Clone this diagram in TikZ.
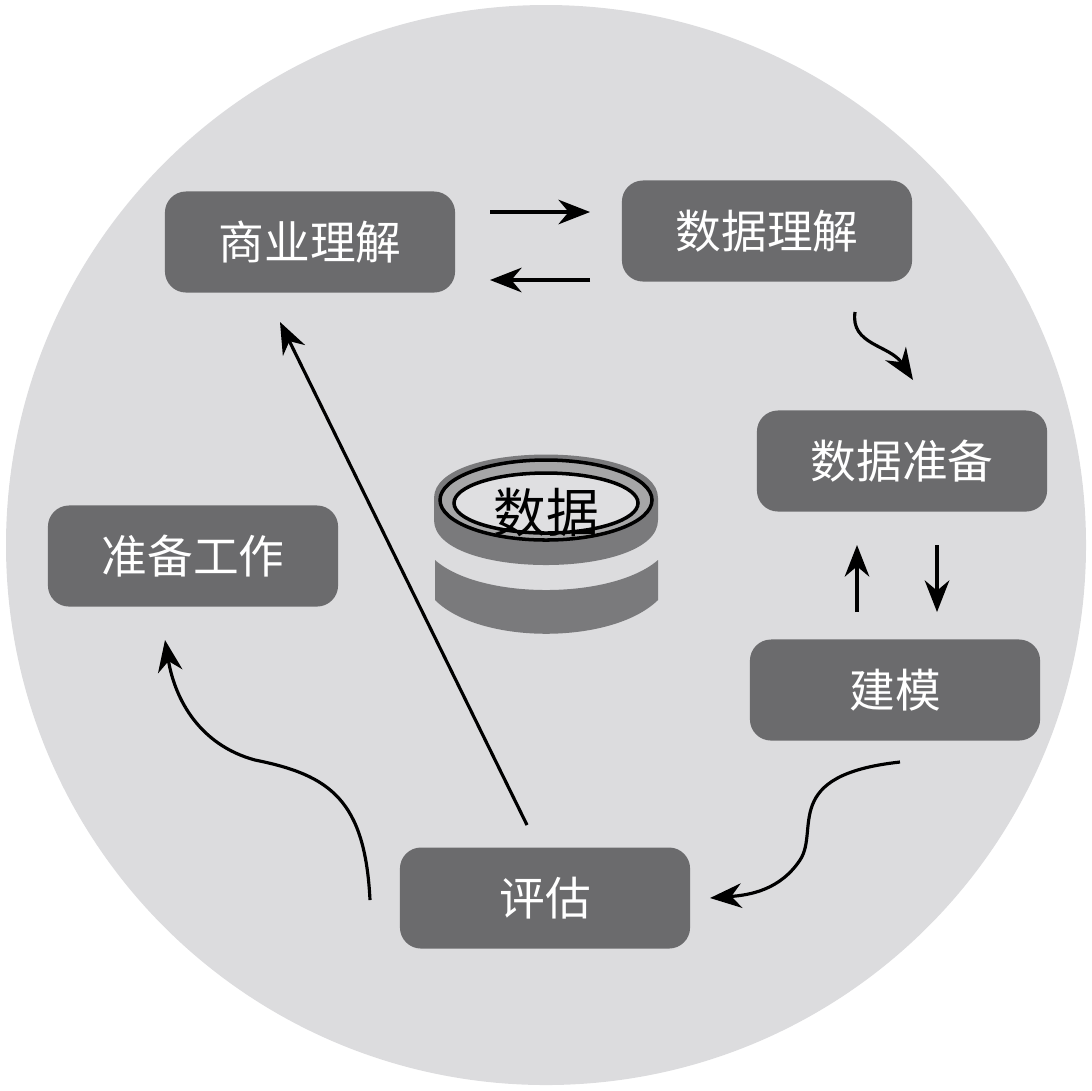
\documentclass[tikz,border=0pt]{standalone}
\usepackage{fontspec}
\newfontfamily\cjk{Noto Sans CJK SC}
\usetikzlibrary{arrows.meta, positioning}
\definecolor{bgcircle}{HTML}{DCDCDE}
\definecolor{boxgray}{HTML}{6B6B6D}
\tikzset{
  stage/.style={rectangle, rounded corners=6pt, fill=boxgray, text=white,
    minimum width=2.9cm, minimum height=1.01cm, font=\cjk\fontsize{13}{15}\selectfont},
  flow/.style={draw, line width=0.9pt, -{Stealth[length=9pt,width=7pt]}}
}
\begin{document}
\begin{tikzpicture}[x=0.01cm, y=-0.01cm]
\useasboundingbox (0,0) rectangle (1092,1090);
\fill[bgcircle] (546,545) circle [radius=540];
% stages
\node [stage] (business) at (310,242) {商业理解};
\node [stage] (understand) at (767,231) {数据理解};
\node [stage] (prepare) at (902,461) {数据准备};
\node [stage] (model) at (895,690) {建模};
\node [stage] (evaluate) at (545,898) {评估};
\node [stage] (setup) at (193,556) {准备工作};
% data symbol
\fill[boxgray!90] (434,498) .. controls (434,440) and (658,440) .. (658,498)
  -- (658,520) .. controls (658,580) and (434,580) .. (434,520) -- cycle;
\draw[line width=1pt, fill=boxgray!60] (546,500) ellipse [x radius=106, y radius=40];
\draw[line width=1pt, fill=bgcircle!90] (546,503) ellipse [x radius=92, y radius=30];
\node [font=\cjk\fontsize{15}{17}\selectfont] (data) at (546,512) {数据};
\fill[boxgray!90] (435,560) .. controls (480,600) and (612,600) .. (658,560)
  -- (658,600) .. controls (612,645) and (480,645) .. (435,600) -- cycle;
% connectors
\coordinate (bu1) at (490,212); \coordinate (bu2) at (590,212);
\coordinate (ub1) at (590,280); \coordinate (ub2) at (490,280);
\path [flow] (bu1) -- (bu2);
\path [flow] (ub1) -- (ub2);
\coordinate (up1) at (855,312); \coordinate (up2) at (913,380);
\path [flow] (up1) .. controls (850,345) and (890,345) .. (up2);
\coordinate (mp1) at (857,612); \coordinate (mp2) at (857,545);
\coordinate (pm1) at (937,545); \coordinate (pm2) at (937,612);
\path [flow] (mp1) -- (mp2);
\path [flow] (pm1) -- (pm2);
\coordinate (me1) at (900,762); \coordinate (me2) at (710,898);
\path [flow] (me1) .. controls (780,775) and (820,830) .. (800,860) .. controls (780,890) and (750,895) .. (me2);
\coordinate (eb1) at (527,825); \coordinate (eb2) at (280,322);
\path [flow] (eb1) -- (eb2);
\coordinate (es1) at (370,900); \coordinate (es2) at (165,640);
\path [flow] (es1) .. controls (365,800) and (330,775) .. (255,760) .. controls (200,745) and (175,700) .. (es2);
\end{tikzpicture}
\end{document}
